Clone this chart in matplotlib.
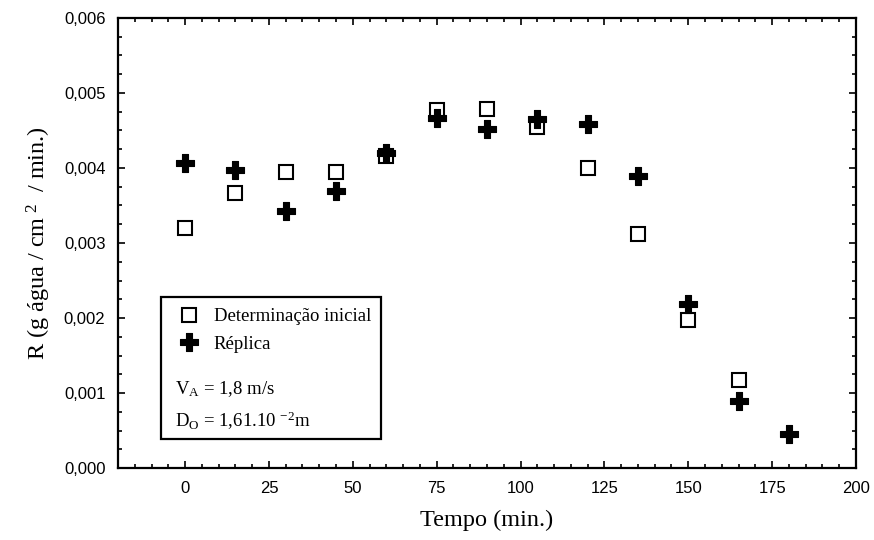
import matplotlib.pyplot as plt
from matplotlib.patches import Rectangle
from matplotlib.path import Path
from matplotlib.ticker import MultipleLocator, FuncFormatter

# tempo (min.) e taxa R (g água / cm2 / min.)
tempo_ini = [0, 15, 30, 45, 60, 75, 90, 105, 120, 135, 150, 165]
r_ini = [0.00320, 0.00366, 0.00394, 0.00394, 0.00416, 0.00477, 0.00478,
         0.00455, 0.00400, 0.00312, 0.00197, 0.00118]

tempo_rep = [0, 15, 30, 45, 60, 75, 90, 105, 120, 135, 150, 165, 180]
r_rep = [0.00407, 0.00397, 0.00342, 0.00369, 0.00420, 0.00466, 0.00452,
         0.00465, 0.00458, 0.00389, 0.00219, 0.00090, 0.00045]

nomes = ["Determinação inicial", "Réplica"]

plt.rcParams['font.family'] = ['Liberation Serif', 'DejaVu Serif']
plt.rcParams['mathtext.fontset'] = 'custom'
plt.rcParams['mathtext.rm'] = 'Liberation Serif'
plt.rcParams['mathtext.it'] = 'Liberation Serif:italic'
plt.rcParams['mathtext.bf'] = 'Liberation Serif:bold'

# cruz cheia com bracos mais grossos que o 'P' padrao
a, b = 0.2, 0.5
cruz = Path([(-a, b), (a, b), (a, a), (b, a), (b, -a), (a, -a), (a, -b),
             (-a, -b), (-a, -a), (-b, -a), (-b, a), (-a, a), (-a, b)])

fig = plt.figure(figsize=(8.74, 5.40), dpi=100)
ax = fig.add_axes([0.135, 0.1333, 0.8444, 0.8334])

ax.plot(tempo_ini, r_ini, ls='none', marker='s', ms=10.5, mfc='white',
        mec='black', mew=1.5, label=nomes[0])
ax.plot(tempo_rep, r_rep, ls='none', marker=cruz, ms=12.3, mfc='black',
        mec='black', mew=0.8, label=nomes[1])

ax.set_xlim(-20, 200)
ax.set_ylim(0, 0.006)
ax.xaxis.set_major_locator(MultipleLocator(25))
ax.xaxis.set_minor_locator(MultipleLocator(5))
ax.yaxis.set_major_locator(MultipleLocator(0.001))
ax.yaxis.set_minor_locator(MultipleLocator(0.00025))
ax.yaxis.set_major_formatter(FuncFormatter(lambda v, p: f"{v:.3f}".replace('.', ',')))
ax.xaxis.set_major_formatter(FuncFormatter(lambda v, p: f"{v:.0f}"))

for s in ax.spines.values():
    s.set_linewidth(1.6)
ax.tick_params(which='both', direction='in', top=True, right=True, width=1.2)
ax.tick_params(which='major', length=5, labelsize=12, pad=9,
               labelfontfamily='Liberation Sans')
ax.tick_params(which='minor', length=3)

ax.set_xlabel("Tempo (min.)", fontsize=17.5, labelpad=10)
ax.set_ylabel(r"R (g água / cm$^{\ 2}$  / min.)", fontsize=17.5, labelpad=8)

# caixa da legenda com as condições do ensaio
ax.add_patch(Rectangle((0.058, 0.064), 0.298, 0.316, transform=ax.transAxes,
                       fill=False, lw=1.6, ec='black', zorder=5))
ax.legend(loc='upper left', bbox_to_anchor=(0.056, 0.397), frameon=False,
          fontsize=13.5, handletextpad=0.7, borderpad=0.5, labelspacing=0.55,
          handlelength=1.2)
ax.text(0.077, 0.175, r"V$_{\mathregular{A}}$ = 1,8 m/s", transform=ax.transAxes,
        fontsize=13.5, va='center')
ax.text(0.077, 0.105, r"D$_{\mathregular{O}}$ = 1,61.10 $^{\mathregular{-2}}$m",
        transform=ax.transAxes, fontsize=13.5, va='center')

fig.savefig("out.png", dpi=100)
